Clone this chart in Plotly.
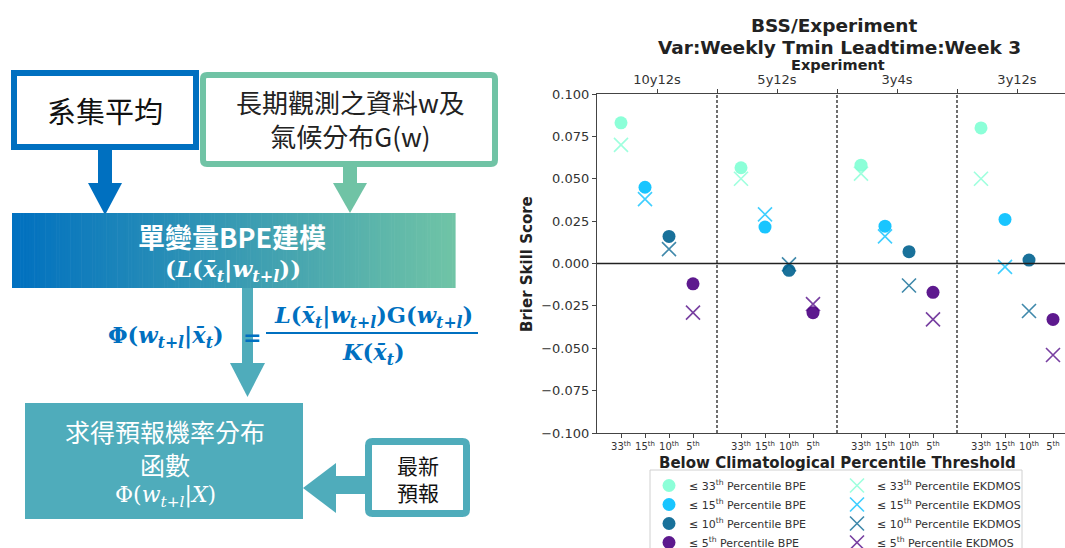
import plotly.graph_objects as go

W, H = 1065, 548

# ---- chart data -----------------------------------------------------------
experiments = ["10y12s", "5y12s", "3y4s", "3y12s"]
thresholds = ["33", "15", "10", "5"]

bpe_33 = [0.083, 0.0565, 0.058, 0.080]
bpe_15 = [0.045, 0.0215, 0.022, 0.026]
bpe_10 = [0.016, -0.004, 0.007, 0.002]
bpe_5 = [-0.012, -0.029, -0.017, -0.033]

ekdmos_33 = [0.070, 0.050, 0.053, 0.050]
ekdmos_15 = [0.038, 0.029, 0.016, -0.002]
ekdmos_10 = [0.0085, -0.0005, -0.013, -0.028]
ekdmos_5 = [-0.029, -0.024, -0.033, -0.054]

y_ticks = [0.100, 0.075, 0.050, 0.025, 0.000, -0.025, -0.050, -0.075, -0.100]

colors = {"33": "#7fffd4", "15": "#00bfff", "10": "#00628f", "5": "#4b0082"}
bpe = {"33": bpe_33, "15": bpe_15, "10": bpe_10, "5": bpe_5}
ekdmos = {"33": ekdmos_33, "15": ekdmos_15, "10": ekdmos_10, "5": ekdmos_5}

GROUP = 5  # slots per experiment panel


def xpos(exp_idx, thr_idx):
    return exp_idx * GROUP + thr_idx + 1


def PX(x):
    return x / W


def PY(y):
    return 1 - y / H


fig = go.Figure()

for j, t in enumerate(thresholds):
    xs = [xpos(i, j) for i in range(len(experiments))]
    fig.add_trace(go.Scatter(
        x=xs, y=bpe[t], mode="markers",
        name=f"≤ {t}<sup>th</sup> Percentile BPE",
        marker=dict(symbol="circle", size=13, color=colors[t], opacity=0.9,
                    line=dict(width=0)),
        legend="legend",
    ))
for j, t in enumerate(thresholds):
    xs = [xpos(i, j) for i in range(len(experiments))]
    fig.add_trace(go.Scatter(
        x=xs, y=ekdmos[t], mode="markers",
        name=f"≤ {t}<sup>th</sup> Percentile EKDMOS",
        marker=dict(symbol="x-thin", size=14, opacity=0.75,
                    line=dict(width=1.6, color=colors[t])),
        legend="legend2",
    ))

# invisible trace to activate the top axis
fig.add_trace(go.Scatter(x=[0], y=[0], xaxis="x2", mode="markers",
                         marker=dict(opacity=0), showlegend=False, hoverinfo="skip"))

bottom_vals, bottom_text = [], []
for i in range(len(experiments)):
    for j, t in enumerate(thresholds):
        bottom_vals.append(xpos(i, j))
        bottom_text.append(f"{t}<sup>th</sup>")

top_vals, top_text = [], []
for i, e in enumerate(experiments):
    top_vals.append(i * GROUP + GROUP / 2)
    top_text.append(e)
    if i < len(experiments) - 1:
        top_vals.append((i + 1) * GROUP)
        top_text.append("")

x_range = [0, 19.5]
plot_left, plot_top, plot_bottom = 597, 94, 433
axis_col = "#444444"
txt_col = "#333333"

fig.update_layout(
    width=W, height=H,
    margin=dict(l=0, r=0, t=0, b=0, autoexpand=False),
    paper_bgcolor="white", plot_bgcolor="white",
    font=dict(family="DejaVu Sans", color=txt_col),
    xaxis=dict(domain=[PX(plot_left), 1], range=x_range, tickvals=bottom_vals,
               ticktext=bottom_text, ticks="outside", ticklen=4, tickcolor=axis_col,
               showline=True, linecolor=axis_col, linewidth=1.3, showgrid=False,
               zeroline=False, tickfont=dict(size=10, color=txt_col), automargin=False),
    xaxis2=dict(overlaying="x", side="top", range=x_range, tickvals=top_vals,
                ticktext=top_text, ticks="outside", ticklen=4, tickcolor=axis_col,
                showline=True, linecolor=axis_col, linewidth=1.3, showgrid=False,
                zeroline=False, tickfont=dict(size=13, color=txt_col), automargin=False),
    yaxis=dict(domain=[PY(plot_bottom), PY(plot_top)], range=[-0.1, 0.1],
               tickvals=y_ticks,
               ticktext=[f"{v:.3f}".replace("-", "−") for v in y_ticks],
               ticks="outside", ticklen=4, tickcolor=axis_col, showline=True,
               linecolor=axis_col, linewidth=1.3, showgrid=False, zeroline=False,
               tickfont=dict(size=13, color=txt_col), automargin=False),
    legend=dict(x=PX(649), y=PY(471), xanchor="left", yanchor="top",
                bgcolor="rgba(0,0,0,0)", font=dict(size=11, color=txt_col),
                tracegroupgap=0),
    legend2=dict(x=PX(837), y=PY(471), xanchor="left", yanchor="top",
                 bgcolor="rgba(0,0,0,0)", font=dict(size=11, color=txt_col),
                 tracegroupgap=0),
    showlegend=True,
)

shapes = []
# zero line and experiment separators
shapes.append(dict(type="line", xref="x", yref="y", x0=x_range[0], x1=x_range[1],
                   y0=0, y1=0, line=dict(color="#222222", width=1.3)))
for i in range(1, len(experiments)):
    shapes.append(dict(type="line", xref="x", yref="y", x0=i * GROUP, x1=i * GROUP,
                       y0=-0.1, y1=0.1, line=dict(color="#222222", width=1.3,
                                                  dash="3px,2px")))
# legend frame
shapes.append(dict(type="rect", xref="paper", yref="paper", x0=PX(650), x1=PX(1022),
                   y0=PY(560), y1=PY(470), line=dict(color="#d0d0d0", width=1),
                   fillcolor="rgba(0,0,0,0)", layer="below"))

# ---- flow diagram ---------------------------------------------------------
BLUE = "#0070c0"
GREEN = "#70c3a5"
TEAL = "#4facbb"


def rect(x0, y0, x1, y1, fill=None, line_color=None, lw=0):
    return dict(type="rect", xref="paper", yref="paper", x0=PX(x0), x1=PX(x1),
                y0=PY(y1), y1=PY(y0), fillcolor=fill or "rgba(0,0,0,0)",
                line=dict(color=line_color or "rgba(0,0,0,0)", width=lw))


def rounded(x0, y0, x1, y1, r, fill, line_color, lw):
    a, b, c, d = PX(x0), PY(y0), PX(x1), PY(y1)
    rx, ry = r / W, r / H
    path = (f"M{a + rx},{b} L{c - rx},{b} Q{c},{b} {c},{b - ry} "
            f"L{c},{d + ry} Q{c},{d} {c - rx},{d} L{a + rx},{d} "
            f"Q{a},{d} {a},{d + ry} L{a},{b - ry} Q{a},{b} {a + rx},{b} Z")
    return dict(type="path", xref="paper", yref="paper", path=path,
                fillcolor=fill, line=dict(color=line_color, width=lw))


def tri(pts, color):
    path = "M" + " L".join(f"{PX(x)},{PY(y)}" for x, y in pts) + " Z"
    return dict(type="path", xref="paper", yref="paper", path=path,
                fillcolor=color, line=dict(width=0))


# ensemble mean box and observation box
shapes.append(rect(14, 73, 196, 147, fill="white", line_color=BLUE, lw=6))
shapes.append(rounded(203, 75, 495, 164, 4, "white", GREEN, 6))
# arrows into the modelling box
shapes.append(rect(98, 150, 112, 185, fill=BLUE))
shapes.append(tri([(88, 183), (122, 183), (105, 215)], BLUE))
shapes.append(rect(343, 167, 357, 185, fill=GREEN))
shapes.append(tri([(333, 183), (367, 183), (350, 213)], GREEN))

# gradient modelling box
c0 = (0, 112, 192)
c1 = (112, 196, 166)
gx0, gx1, gy0, gy1 = 12, 455, 213, 288
n_strips = 160
step = (gx1 - gx0) / n_strips
for k in range(n_strips):
    f = (k + 0.5) / n_strips
    col = tuple(round(c0[m] + (c1[m] - c0[m]) * f) for m in range(3))
    shapes.append(rect(gx0 + k * step, gy0, gx0 + (k + 1) * step + 0.6, gy1,
                       fill=f"rgb{col}"))

# arrow down to the forecast distribution box
shapes.append(rect(242, 288, 253, 365, fill=TEAL))
shapes.append(tri([(230, 363), (265, 363), (247.5, 397)], TEAL))
# forecast distribution box
shapes.append(rect(25, 403, 303, 519, fill=TEAL))
# arrow from the latest forecast box
shapes.append(rect(333, 476, 368, 494, fill=TEAL))
shapes.append(tri([(303, 488), (336, 463), (336, 513)], TEAL))
shapes.append(rounded(368.5, 441.5, 466.5, 513.5, 4, "white", TEAL, 7))
# fraction bar
shapes.append(dict(type="line", xref="paper", yref="paper", x0=PX(266), x1=PX(478),
                   y0=PY(333), y1=PY(333), line=dict(color=BLUE, width=2)))

fig.update_layout(shapes=shapes)

CJK = "Noto Sans CJK TC"
SERIF = "DejaVu Serif"
XBAR = "x\u0304"


def note(x, y, text, size, color, family, angle=0):
    fig.add_annotation(x=PX(x), y=PY(y), xref="paper", yref="paper", text=text,
                       showarrow=False, xanchor="center", yanchor="middle",
                       font=dict(size=size, color=color, family=family),
                       textangle=angle)


note(105, 110, "系集平均", 29, "#111111", CJK)
note(350, 118, "長期觀測之資料w及<br>氣候分布G(w)", 26, "#222222", CJK)
note(232, 236, "<b>單變量BPE建模</b>", 27, "white", CJK)
note(233, 270, f"<b>(<i>L</i>(<i>{XBAR}</i><sub><i>t</i></sub>|<i>w</i><sub><i>t+l</i></sub>))</b>",
     23, "white", SERIF)
note(166, 337, f"<b>Φ(<i>w</i><sub><i>t+l</i></sub>|<i>{XBAR}</i><sub><i>t</i></sub>)</b>",
     22.5, BLUE, SERIF)
note(252, 337, "<b>=</b>", 22, BLUE, SERIF)
note(373, 317, f"<b><i>L</i>(<i>{XBAR}</i><sub><i>t</i></sub>|<i>w</i><sub><i>t+l</i></sub>)"
     f"G(<i>w</i><sub><i>t+l</i></sub>)</b>", 22.5, BLUE, SERIF)
note(373, 354, f"<b><i>K</i>(<i>{XBAR}</i><sub><i>t</i></sub>)</b>", 22.5, BLUE, SERIF)
note(165, 447, "求得預報機率分布<br>函數", 25, "white", CJK)
note(165, 496, "Φ(<i>w</i><sub><i>t+l</i></sub>|<i>X</i>)", 22, "white", SERIF)
note(418, 478, "最新<br>預報", 21, "#111111", CJK)

# chart titles and axis labels
DV = "DejaVu Sans"
note(834, 25, "<b>BSS/Experiment</b>", 18.5, "#222222", DV)
note(839, 47, "<b>Var:Weekly Tmin Leadtime:Week 3</b>", 18.5, "#222222", DV)
note(838, 65, "<b>Experiment</b>", 14.5, "#222222", DV)
note(837, 463, "<b>Below Climatological Percentile Threshold</b>", 15, "#222222", DV)
note(527, 264, "<b>Brier Skill Score</b>", 15, "#222222", DV, angle=-90)

fig.write_html("out.html")
